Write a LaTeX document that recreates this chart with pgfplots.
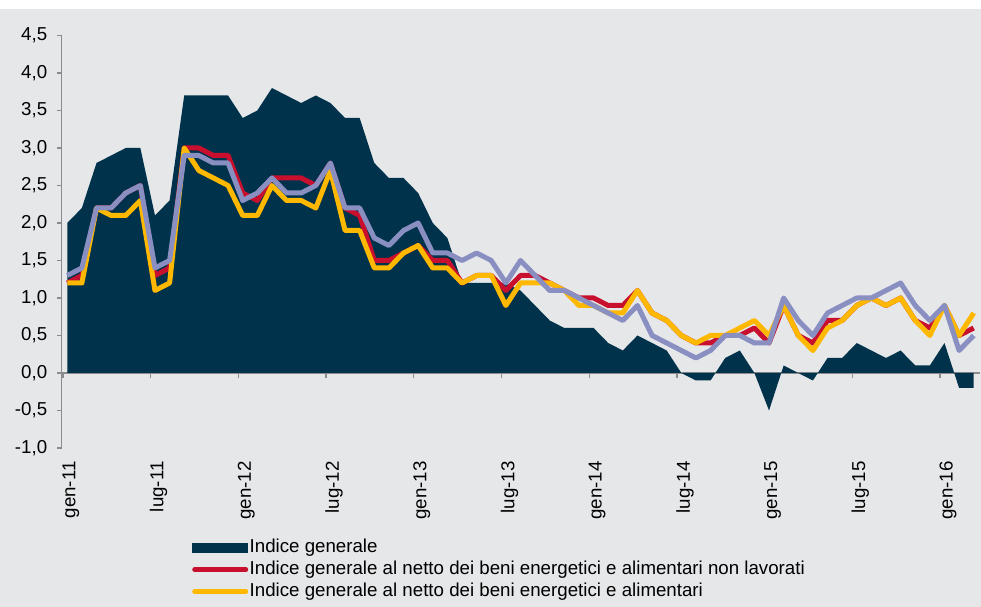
\documentclass[border=0pt]{standalone}
\usepackage{pgfplots}
\pgfplotsset{compat=1.18}
\usepackage{pgfplotstable}
\usepackage{fontspec}
\setmainfont{Liberation Sans}
\definecolor{bg}{HTML}{E6E7E9}
\definecolor{navy}{HTML}{00324B}
\definecolor{cred}{HTML}{C8102E}
\definecolor{cyel}{HTML}{FFB800}
\definecolor{cpur}{HTML}{8A8FC2}
\definecolor{axgray}{HTML}{8C8C8C}
\pgfplotstableread{
i gen red yel pur
0 2.0 1.2 1.2 1.3
1 2.2 1.3 1.2 1.4
2 2.8 2.2 2.2 2.2
3 2.9 2.2 2.1 2.2
4 3.0 2.4 2.1 2.4
5 3.0 2.5 2.3 2.5
6 2.1 1.3 1.1 1.4
7 2.3 1.4 1.2 1.5
8 3.7 3.0 3.0 2.9
9 3.7 3.0 2.7 2.9
10 3.7 2.9 2.6 2.8
11 3.7 2.9 2.5 2.8
12 3.4 2.4 2.1 2.3
13 3.5 2.3 2.1 2.4
14 3.8 2.6 2.5 2.6
15 3.7 2.6 2.3 2.4
16 3.6 2.6 2.3 2.4
17 3.7 2.5 2.2 2.5
18 3.6 2.8 2.7 2.8
19 3.4 2.2 1.9 2.2
20 3.4 2.1 1.9 2.2
21 2.8 1.5 1.4 1.8
22 2.6 1.5 1.4 1.7
23 2.6 1.6 1.6 1.9
24 2.4 1.7 1.7 2.0
25 2.0 1.5 1.4 1.6
26 1.8 1.5 1.4 1.6
27 1.2 1.2 1.2 1.5
28 1.2 1.3 1.3 1.6
29 1.2 1.3 1.3 1.5
30 1.2 1.1 0.9 1.2
31 1.1 1.3 1.2 1.5
32 0.9 1.3 1.2 1.3
33 0.7 1.2 1.2 1.1
34 0.6 1.1 1.1 1.1
35 0.6 1.0 0.9 1.0
36 0.6 1.0 0.9 0.9
37 0.4 0.9 0.8 0.8
38 0.3 0.9 0.8 0.7
39 0.5 1.1 1.1 0.9
40 0.4 0.8 0.8 0.5
41 0.3 0.7 0.7 0.4
42 0.0 0.5 0.5 0.3
43 -0.1 0.4 0.4 0.2
44 -0.1 0.4 0.5 0.3
45 0.2 0.5 0.5 0.5
46 0.3 0.5 0.6 0.5
47 0.0 0.6 0.7 0.4
48 -0.5 0.4 0.5 0.4
49 0.1 0.9 0.9 1.0
50 0.0 0.5 0.5 0.7
51 -0.1 0.4 0.3 0.5
52 0.2 0.7 0.6 0.8
53 0.2 0.7 0.7 0.9
54 0.4 0.9 0.9 1.0
55 0.3 1.0 1.0 1.0
56 0.2 0.9 0.9 1.1
57 0.3 1.0 1.0 1.2
58 0.1 0.7 0.7 0.9
59 0.1 0.6 0.5 0.7
60 0.4 0.9 0.9 0.9
61 -0.2 0.5 0.5 0.3
62 -0.2 0.6 0.8 0.5
}\datatable
\begin{document}
\begin{tikzpicture}[font=\fontsize{18.7bp}{22bp}\selectfont]
\fill[white] (0bp,0bp) rectangle (981bp,607bp);
\fill[bg] (0bp,0bp) rectangle (981bp,598bp);
\useasboundingbox (0bp,0bp) rectangle (981bp,607bp);
\begin{axis}[
  at={(61.7bp,159bp)}, anchor=south west,
  scale only axis, width=918.3bp, height=412.5bp,
  xmin=-0.38, xmax=62.43, ymin=-1, ymax=4.5,
  axis x line=middle, axis y line=left,
  axis line style={axgray, line width=1.3bp, -},
  hide obscured x ticks=false, hide obscured y ticks=false,
  tick style={axgray, line width=1.3bp},
  tick align=outside, major tick length=5bp,
  xtick={-0.3,5.7,11.7,17.7,23.7,29.7,35.7,41.7,47.7,53.7,59.7},
  xticklabels={gen-11,lug-11,gen-12,lug-12,gen-13,lug-13,gen-14,lug-14,gen-15,lug-15,gen-16},
  xticklabel style={xshift=8bp, rotate=90, anchor=east},
  xticklabel shift=80bp,
  ytick={-1,-0.5,0,0.5,1,1.5,2,2.5,3,3.5,4,4.5},
  yticklabel style={xshift=-6bp, /pgf/number format/.cd, fixed, fixed zerofill, precision=1, use comma, assume math mode=true},
  legend style={at={(0.1419,-0.2157)}, anchor=north west, draw=none, fill=none,
    inner sep=0pt, row sep=1bp, nodes={inner sep=1.5bp, text height=13.5bp, text depth=4.5bp}, font=\fontsize{18.7bp}{22bp}\selectfont},
  legend cell align=left,
  clip=false,
]
\addplot[draw=none, fill=navy,
  legend image code/.code={\fill[navy] (0bp,-5bp) rectangle (56bp,5bp);}]
  table[x=i, y=gen] {\datatable} \closedcycle;
\addlegendentry{Indice generale}
\addplot[cred, line width=5bp, line join=round,
  legend image code/.code={\draw[cred, line width=5bp, line cap=round] (2.5bp,0bp) -- (53.5bp,0bp);}]
  table[x=i, y=red] {\datatable};
\addlegendentry{Indice generale al netto dei beni energetici e alimentari non lavorati}
\addplot[cyel, line width=5bp, line join=round,
  legend image code/.code={\draw[cyel, line width=5bp, line cap=round] (2.5bp,0bp) -- (53.5bp,0bp);}]
  table[x=i, y=yel] {\datatable};
\addlegendentry{Indice generale al netto dei beni energetici e alimentari}
\addplot[cpur, line width=5bp, line join=round, forget plot]
  table[x=i, y=pur] {\datatable};
\end{axis}
\end{tikzpicture}
\end{document}
